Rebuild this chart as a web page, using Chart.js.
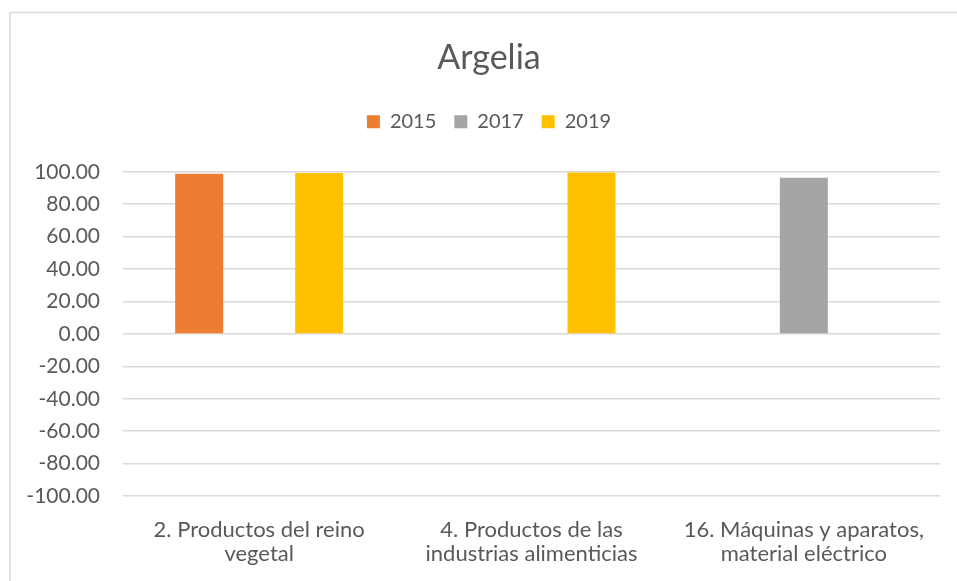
<!DOCTYPE html>
<html>
<head>
<meta charset="utf-8">
<script src="https://cdn.jsdelivr.net/npm/chart.js@4/dist/chart.umd.min.js"></script>
<style>
  html, body { margin: 0; padding: 0; background: #ffffff; overflow: hidden; }
  canvas { display: block; }
</style>
</head>
<body>
<canvas id="c" width="957" height="581"></canvas>
<script>
const chartTitle = 'Argelia';
const categories = [
  ['2. Productos del reino', 'vegetal'],
  ['4. Productos de las', 'industrias alimenticias'],
  ['16. Máquinas y aparatos,', 'material eléctrico']
];
const seriesNames = ['2015', '2017', '2019'];
const values2015 = [98.8, null, null];
const values2017 = [null, null, 96.3];
const values2019 = [99.2, 99.6, null];
const yTicksMin = -100;
const yTicksMax = 100;
const yTickStep = 20;

const colors = ['#ED7D31', '#A5A5A5', '#FFC000'];
const textColor = '#595959';
const gridColor = '#D9D9D9';
const fontFamily = 'Lato, "Open Sans", sans-serif';

const borderPlugin = {
  id: 'outerBorder',
  beforeDraw(chart) {
    const ctx = chart.ctx;
    ctx.save();
    ctx.fillStyle = '#ffffff';
    ctx.fillRect(0, 0, chart.width, chart.height);
    ctx.strokeStyle = '#D9D9D9';
    ctx.lineWidth = 1.5;
    ctx.strokeRect(10, 12.5, 2000, 2000);
    ctx.restore();
  }
};

new Chart(document.getElementById('c'), {
  type: 'bar',
  data: {
    labels: categories,
    datasets: [
      { label: seriesNames[0], data: values2015, backgroundColor: colors[0] },
      { label: seriesNames[1], data: values2017, backgroundColor: colors[1] },
      { label: seriesNames[2], data: values2019, backgroundColor: colors[2] }
    ]
  },
  options: {
    responsive: false,
    devicePixelRatio: 1,
    animation: false,
    categoryPercentage: 0.661,
    barPercentage: 0.8,
    layout: { padding: { left: 21, right: 0, top: 0, bottom: 0 } },
    plugins: {
      title: {
        display: true,
        text: chartTitle,
        color: textColor,
        font: { family: fontFamily, size: 34, weight: 'normal', lineHeight: 1.2 },
        padding: { top: 38, bottom: 15 }
      },
      subtitle: {
        display: true,
        text: '',
        weight: 500,
        font: { size: 10, lineHeight: 1 },
        padding: { top: 20, bottom: 0 }
      },
      legend: {
        display: true,
        position: 'top',
        labels: {
          color: textColor,
          boxWidth: 13,
          boxHeight: 13,
          padding: 18,
          font: { family: fontFamily, size: 20 }
        }
      },
      tooltip: { enabled: false }
    },
    scales: {
      x: {
        grid: { display: false, drawTicks: false },
        border: { display: false },
        ticks: {
          color: textColor,
          padding: 22,
          maxRotation: 0,
          autoSkip: false,
          font: { family: fontFamily, size: 22, lineHeight: 1.1 }
        },
        afterFit(scale) { scale.height = 85; }
      },
      y: {
        min: yTicksMin,
        max: yTicksMax,
        grid: { color: gridColor, lineWidth: 1.5, drawTicks: false },
        border: { display: false },
        ticks: {
          stepSize: yTickStep,
          color: textColor,
          padding: 23,
          font: { family: fontFamily, size: 21 },
          callback: (v) => Number(v).toFixed(2)
        },
        afterFit(scale) { scale.width = 102; }
      },
      y2: {
        position: 'right',
        min: yTicksMin,
        max: yTicksMax,
        display: true,
        grid: { display: false, drawTicks: false },
        border: { display: false },
        ticks: { display: false },
        afterFit(scale) { scale.width = 17; }
      }
    }
  },
  plugins: [borderPlugin]
});
</script>
</body>
</html>
